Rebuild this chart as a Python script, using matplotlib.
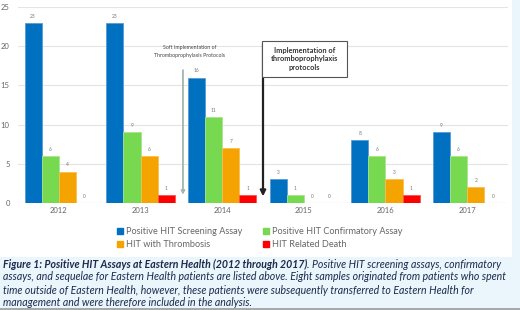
import matplotlib.pyplot as plt
import matplotlib.patches as mpatches
import numpy as np

plt.rcParams['font.family'] = ['Lato', 'DejaVu Sans']

years = ['2012', '2013', '2014', '2015', '2016', '2017']
screening = [23, 23, 16, 3, 8, 9]
confirmatory = [6, 9, 11, 1, 6, 6]
thrombosis = [4, 6, 7, 0, 3, 2]
death = [0, 1, 1, 0, 1, 0]

series = [screening, confirmatory, thrombosis, death]
names = ['Positive HIT Screening Assay', 'Positive HIT Confirmatory Assay',
         'HIT with Thrombosis', 'HIT Related Death']
colors = ['#0070c0', '#77d94f', '#f5a300', '#ff0000']
edges = ['#5b9bd5', '#a9e48f', '#f8c04d', '#ff5050']

fig = plt.figure(figsize=(5.2, 3.1), dpi=100)
fig.patch.set_facecolor('#eaf6fc')
# white chart panel
fig.add_artist(mpatches.Rectangle((0, 1 - 257 / 310), 512 / 520, 257 / 310,
                                  transform=fig.transFigure, facecolor='white',
                                  edgecolor='none', zorder=0))
fig.add_artist(plt.Line2D([0, 1], [0.004, 0.004], transform=fig.transFigure,
                          color='#9a9a9a', lw=1.2))

ax = fig.add_axes([18 / 520, 1 - 203 / 310, 490 / 520, 196 / 310])
ax.set_facecolor('none')

x = np.arange(len(years))
w = 0.21
offsets = [-1.5 * w, -0.5 * w, 0.5 * w, 1.5 * w]
for vals, name, c, ec, off in zip(series, names, colors, edges, offsets):
    bars = ax.bar(x + off, vals, w, color=c, edgecolor=ec, linewidth=0.6,
                  label=name, zorder=3)
    for b, v in zip(bars, vals):
        ax.annotate(str(v), (b.get_x() + b.get_width() / 2, v),
                    xytext=(0, 3), textcoords='offset points', ha='center',
                    va='bottom', fontsize=3.5, color='#777777')

ax.set_xlim(-0.5, 5.5)
ax.set_ylim(0, 25)
ax.set_yticks([0, 5, 10, 15, 20, 25])
ax.set_xticks(x)
ax.set_xticklabels(years)
ax.tick_params(length=0, labelsize=5.5, labelcolor='#666666', pad=3)
ax.tick_params(axis='y', pad=6)
ax.grid(axis='y', color='#e4e4e4', lw=0.8, zorder=0)
for s in ax.spines.values():
    s.set_visible(False)
ax.axhline(0, color='#d9d9d9', lw=0.8, zorder=2)

# soft implementation arrow
ax.annotate('', xy=(1.52, 0.7), xytext=(1.52, 17.3),
            arrowprops=dict(arrowstyle='-|>', color='#a3b6b0', lw=1.3,
                            mutation_scale=5))
ax.text(1.6, 19.3, 'Soft Implementation of\nThromboprophylaxis Protocols',
        ha='center', va='center', fontsize=3.8, color='#444444',
        linespacing=1.6)

# implementation arrow
ax.annotate('', xy=(2.5, 0.5), xytext=(2.5, 20.7),
            arrowprops=dict(arrowstyle='-|>', color='#222222', lw=1.6,
                            mutation_scale=8))
ax.add_patch(mpatches.Rectangle((2.49, 16.1), 1.04, 4.6, facecolor='white',
                                edgecolor='#555555', lw=0.8, zorder=4))
ax.text(3.01, 18.4, 'Implementation of\nthromboprophylaxis\nprotocols',
        ha='center', va='center', fontsize=5.3, fontweight='bold',
        color='#333333', zorder=5, linespacing=1.25)

# legend filled column-wise, so reorder to get rows as in the original
order = [0, 2, 1, 3]
handles = [mpatches.Patch(color=colors[i]) for i in order]
fig.legend(handles, [names[i] for i in order], loc='center',
           bbox_to_anchor=(0.5, 1 - 238 / 310),
           ncol=2, frameon=False, fontsize=6.6, labelcolor='#666666',
           handlelength=0.6, handleheight=0.6, handletextpad=0.4,
           columnspacing=2.2, labelspacing=0.45)

cap_color = '#1b2a4a'
fs = 7.6
lines = [None,
         'assays, and sequelae for Eastern Health patients are listed above. Eight samples originated from patients who spent',
         'time outside of Eastern Health, however, these patients were subsequently transferred to Eastern Health for',
         'management and were therefore included in the analysis.']
ys = [264, 277, 290, 302]
t0 = fig.text(3 / 520, 1 - ys[0] / 310,
              'Figure 1: Positive HIT Assays at Eastern Health (2012 through 2017)',
              fontsize=fs, fontweight='bold', style='italic', color=cap_color,
              va='center')
fig.canvas.draw()
bb = t0.get_window_extent(fig.canvas.get_renderer())
fig.text(bb.x1 / fig.bbox.width, 1 - ys[0] / 310,
         '. Positive HIT screening assays, confirmatory', fontsize=fs,
         style='italic', color=cap_color, va='center')
for ln, yy in zip(lines[1:], ys[1:]):
    fig.text(3 / 520, 1 - yy / 310, ln, fontsize=fs, style='italic',
             color=cap_color, va='center')

fig.savefig('out.png', dpi=100, facecolor=fig.get_facecolor())
